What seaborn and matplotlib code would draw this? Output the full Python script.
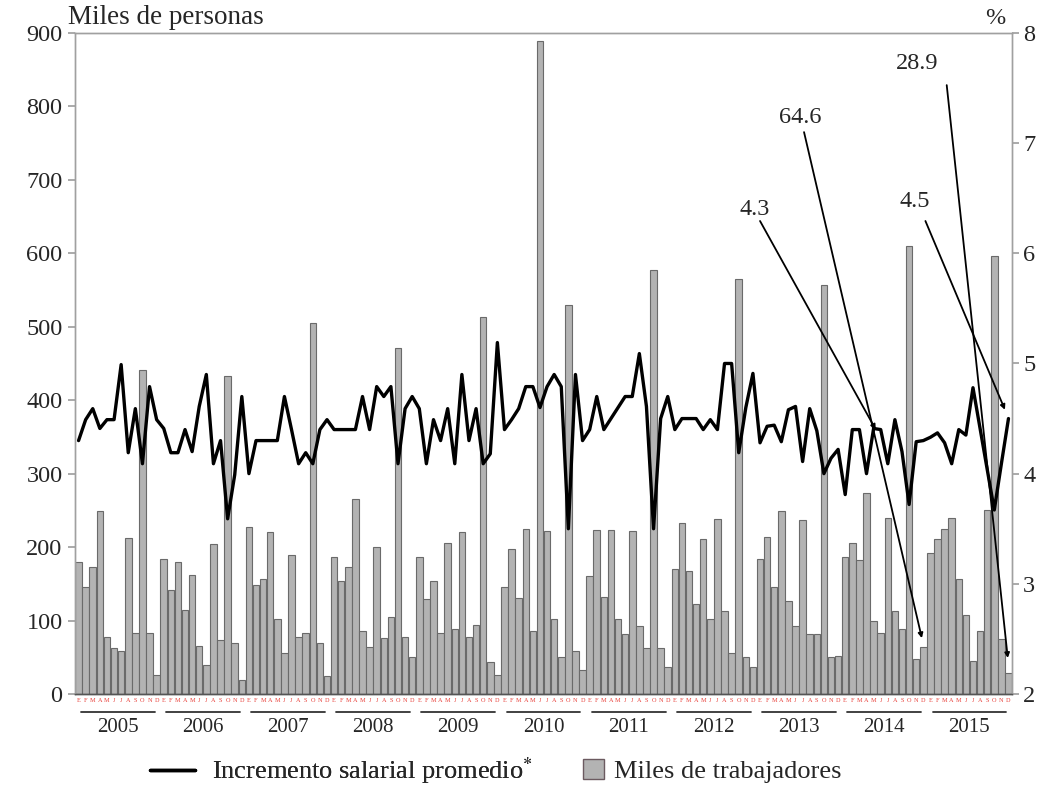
import numpy as np
import pandas as pd
import seaborn as sns
import matplotlib.pyplot as plt
from matplotlib.lines import Line2D
from matplotlib.patches import Patch
import matplotlib.transforms as mtransforms

# Monthly data, Jan 2005 - Dec 2015
anios = ['2005', '2006', '2007', '2008', '2009', '2010',
         '2011', '2012', '2013', '2014', '2015']
meses = ['E', 'F', 'M', 'A', 'M', 'J', 'J', 'A', 'S', 'O', 'N', 'D']

# Miles de trabajadores (left axis)
trabajadores = [
    180, 146, 173, 249, 78, 62, 59, 213, 83, 441, 83, 26,      # 2005
    184, 141, 180, 115, 162, 65, 40, 204, 73, 433, 69, 19,     # 2006
    228, 148, 157, 220, 102, 56, 189, 78, 83, 505, 69, 24,     # 2007
    187, 154, 173, 266, 86, 64, 200, 76, 105, 471, 78, 51,     # 2008
    187, 129, 154, 83, 206, 89, 220, 78, 94, 513, 43, 26,      # 2009
    146, 197, 130, 225, 86, 889, 222, 102, 51, 530, 59, 32,    # 2010
    160, 223, 132, 223, 102, 81, 222, 93, 62, 577, 62, 37,     # 2011
    170, 233, 168, 123, 211, 102, 238, 113, 56, 565, 51, 37,   # 2012
    184, 214, 146, 249, 127, 92, 237, 81, 81, 557, 51, 52,     # 2013
    187, 205, 182, 274, 99, 83, 240, 113, 89, 610, 48, 64.6,   # 2014
    192, 211, 225, 240, 157, 108, 45, 86, 250, 597, 75, 28.9,  # 2015
]

# Incremento salarial promedio, % (right axis)
incremento = [
    4.30, 4.49, 4.59, 4.41, 4.49, 4.49, 4.99, 4.19, 4.59, 4.09, 4.79, 4.49,
    4.41, 4.19, 4.19, 4.40, 4.20, 4.61, 4.90, 4.09, 4.30, 3.59, 3.99, 4.70,
    4.00, 4.30, 4.30, 4.30, 4.30, 4.70, 4.40, 4.09, 4.19, 4.09, 4.40, 4.49,
    4.40, 4.40, 4.40, 4.40, 4.70, 4.40, 4.79, 4.70, 4.79, 4.09, 4.59, 4.70,
    4.59, 4.09, 4.49, 4.30, 4.59, 4.09, 4.90, 4.30, 4.59, 4.09, 4.18, 5.19,
    4.40, 4.49, 4.59, 4.79, 4.79, 4.60, 4.79, 4.90, 4.79, 3.50, 4.90, 4.30,
    4.40, 4.70, 4.40, 4.50, 4.60, 4.70, 4.70, 5.09, 4.61, 3.50, 4.50, 4.70,
    4.40, 4.50, 4.50, 4.50, 4.40, 4.49, 4.40, 5.00, 5.00, 4.19, 4.60, 4.91,
    4.28, 4.43, 4.44, 4.29, 4.58, 4.61, 4.11, 4.59, 4.39, 4.00, 4.14, 4.22,
    3.81, 4.40, 4.40, 4.00, 4.41, 4.40, 4.09, 4.49, 4.20, 3.72, 4.29, 4.30,
    4.33, 4.37, 4.28, 4.09, 4.40, 4.35, 4.78, 4.41, 4.04, 3.67, 4.09, 4.50,
]

df = pd.DataFrame({
    'pos': np.arange(len(trabajadores)),
    'trabajadores': trabajadores,
    'incremento': incremento,
})

sns.set_theme(style='white')
plt.rcParams['font.family'] = ['Liberation Serif', 'DejaVu Serif']
plt.rcParams['mathtext.fontset'] = 'stix'

fig = plt.figure(figsize=(10.52, 7.87), dpi=100)
ax = fig.add_axes([0.0713, 0.1182, 0.8907, 0.8399])

sns.barplot(data=df, x='pos', y='trabajadores', ax=ax, color='#b3b3b3',
            saturation=1, width=0.92, edgecolor='#6a6a6a', linewidth=0.8)
ax.set_ylim(0, 900)
ax.set_xlim(-0.5, len(df) - 0.5)
ax.set_yticks(range(0, 901, 100))
ax.set_xlabel('')
ax.set_ylabel('')

ax2 = ax.twinx()
sns.lineplot(data=df, x='pos', y='incremento', ax=ax2, color='black', lw=2.4)
ax2.set_ylim(2, 8)
ax2.set_yticks(range(2, 9))
ax2.set_xlim(-0.5, len(df) - 0.5)
ax2.set_ylabel('')

grey = '#a0a0a0'
for a in (ax, ax2):
    for s in a.spines.values():
        s.set_color(grey)
        s.set_linewidth(1.0)
    a.spines['bottom'].set_color('#555555')

ax.tick_params(axis='y', direction='out', length=5, color=grey, labelsize=17.5, pad=4, left=True)
ax2.tick_params(axis='y', direction='out', length=5, color=grey, labelsize=17.5, pad=3, right=True)

# month letters under every bar
ax.set_xticks(df['pos'])
ax.set_xticklabels(meses * len(anios), fontsize=4.5, color='#e8403a')
ax.tick_params(axis='x', direction='in', length=3, color='#555555', pad=3, bottom=True)

# year underlines and labels
trans = mtransforms.blended_transform_factory(ax.transData, ax.transAxes)
for k, anio in enumerate(anios):
    i0 = k * 12
    ax.plot([i0 + 0.3, i0 + 10.7], [-0.027, -0.027], transform=trans,
            color='#333333', lw=1.3, clip_on=False)
    ax.text(i0 + 5.5, -0.050, anio, transform=trans, ha='center', va='center',
            fontsize=15)

# callouts for the last values
arrow = dict(arrowstyle='-|>', color='black', lw=1.3, mutation_scale=7,
             shrinkA=0, shrinkB=0)
callouts = [
    ('4.3', (95.3, 660), (96.0, 644), (112.3, 360)),
    ('64.6', (101.6, 785), (102.2, 765), (118.8, 76)),
    ('4.5', (117.8, 671), (119.3, 644), (130.5, 387)),
    ('28.9', (118.2, 859), (122.3, 829), (130.9, 49)),
]
for txt, tpos, start, tip in callouts:
    ax.text(tpos[0], tpos[1], txt, ha='center', va='center', fontsize=17.5, zorder=6)
    ax.annotate('', xy=tip, xytext=start, arrowprops=arrow, zorder=6,
                annotation_clip=False)

fig.text(68 / 1052, 1 - 18 / 787, 'Miles de personas', ha='left', va='center',
         fontsize=19.5)
fig.text(995 / 1052, 1 - 18 / 787, '%', ha='center', va='center', fontsize=17.5)

# two legend entries, placed separately so the patch stays square
leg1 = fig.legend([Line2D([0], [0], color='black', lw=2.5)],
                  ['Incremento salarial promedio$^{*}$'],
                  loc='center left', bbox_to_anchor=(150 / 1052, 1 - 771 / 787),
                  frameon=False, fontsize=19, handlelength=1.7,
                  handletextpad=0.65, borderpad=0, borderaxespad=0)
leg2 = fig.legend([Patch(facecolor='#b3b3b3', edgecolor='#6b5a60', linewidth=1.0)],
                  ['Miles de trabajadores'],
                  loc='center left', bbox_to_anchor=(583 / 1052, 1 - 771 / 787),
                  frameon=False, fontsize=19, handlelength=0.78,
                  handleheight=0.78, handletextpad=0.4, borderpad=0,
                  borderaxespad=0)
fig.add_artist(leg1)

fig.savefig('out.png', dpi=100)
